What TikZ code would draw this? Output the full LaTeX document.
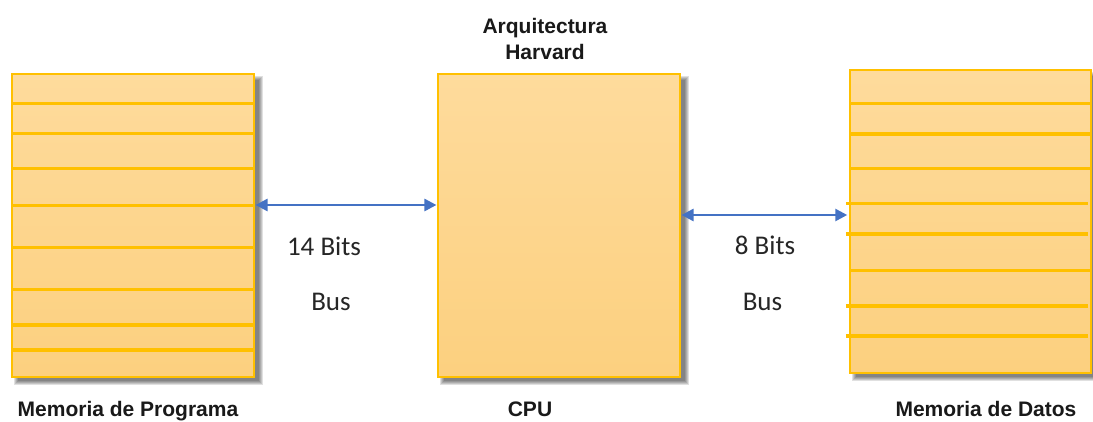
\documentclass[tikz,border=0pt]{standalone}
\usepackage{fontspec}
\usetikzlibrary{arrows.meta}
\newfontfamily\arialfont{Liberation Sans}
\newfontfamily\califont{Carlito}
\definecolor{boxtop}{HTML}{FEDB9C}
\definecolor{boxbot}{HTML}{FCD07F}
\definecolor{gold}{HTML}{FFC000}
\definecolor{busblue}{HTML}{4472C4}
\tikzset{
  membox/.style={rectangle, inner sep=0pt, minimum width=242pt, minimum height=303pt,
    top color=boxtop, bottom color=boxbot, draw=gold, line width=1.5pt},
  rowline/.style={gold, line width=3.2pt},
  busarrow/.style={busblue, line width=2.6pt, {Triangle[length=12pt,width=12pt]}-{Triangle[length=12pt,width=12pt]}},
  titlelbl/.style={font=\arialfont\bfseries\fontsize{21}{26}\selectfont, inner sep=0pt, text=black!90},
  buslbl/.style={font=\califont\fontsize{27}{30}\selectfont, inner sep=0pt, anchor=base, text=black!85}
}
\newcommand\boxshadow[4]{%
  \foreach \e in {0,1,2,3,4}{%
    \fill[black,opacity=0.12] (#1+6-\e,#2+6-\e) rectangle (#3+5+\e,#4+4+\e);}%
}
\begin{document}
\begin{tikzpicture}[x=1pt,y=-1pt]
\useasboundingbox[fill=white] (0,0) rectangle (1093,421);
% shadows
\boxshadow{12}{74}{254}{377}
\boxshadow{438}{74}{680}{377}
\boxshadow{850}{70}{1091}{373}
% boxes
\node[membox] (pm) at (133,225.5) {};
\node[membox] (cpu) at (559,225.5) {};
\node[membox, minimum width=241pt] (dm) at (970.5,221.5) {};
% rows of program memory
\foreach \y in {103.3,133.3,168.3,205.7,247.7,289.3,325,350}
  \draw[rowline] (pm.west |- 0,\y) -- (pm.east |- 0,\y);
% rows of data memory
\foreach \y in {103.3,134,168.3,270.7}
  \draw[rowline] (dm.west |- 0,\y) -- (dm.east |- 0,\y);
\foreach \y in {203.3,234,306,336}
  \draw[rowline] ([xshift=-3.5pt]dm.west |- 0,\y) -- ([xshift=-4pt]dm.east |- 0,\y);
% buses
\draw[busarrow] ([xshift=0.8pt]pm.east |- 0,205) -- ([xshift=-0.8pt]cpu.west |- 0,205);
\draw[busarrow] ([xshift=0.8pt]cpu.east |- 0,215) -- ([xshift=-2pt]dm.west |- 0,215);
% labels
\node[titlelbl, align=center, anchor=north] (title) at (545,18) {Arquitectura\\Harvard};
\node[buslbl] (b14) at (324,255) {14 Bits};
\node[buslbl] (bus1) at (331,310) {Bus};
\node[buslbl] (b8) at (765,254) {8 Bits};
\node[buslbl] (bus2) at (762.5,310) {Bus};
\node[titlelbl, anchor=base] (lpm) at (128,416.7) {Memoria de Programa};
\node[titlelbl, anchor=base] (lcpu) at (530,416.7) {CPU};
\node[titlelbl, anchor=base] (ldm) at (986,416.7) {Memoria de Datos};
\end{tikzpicture}
\end{document}
